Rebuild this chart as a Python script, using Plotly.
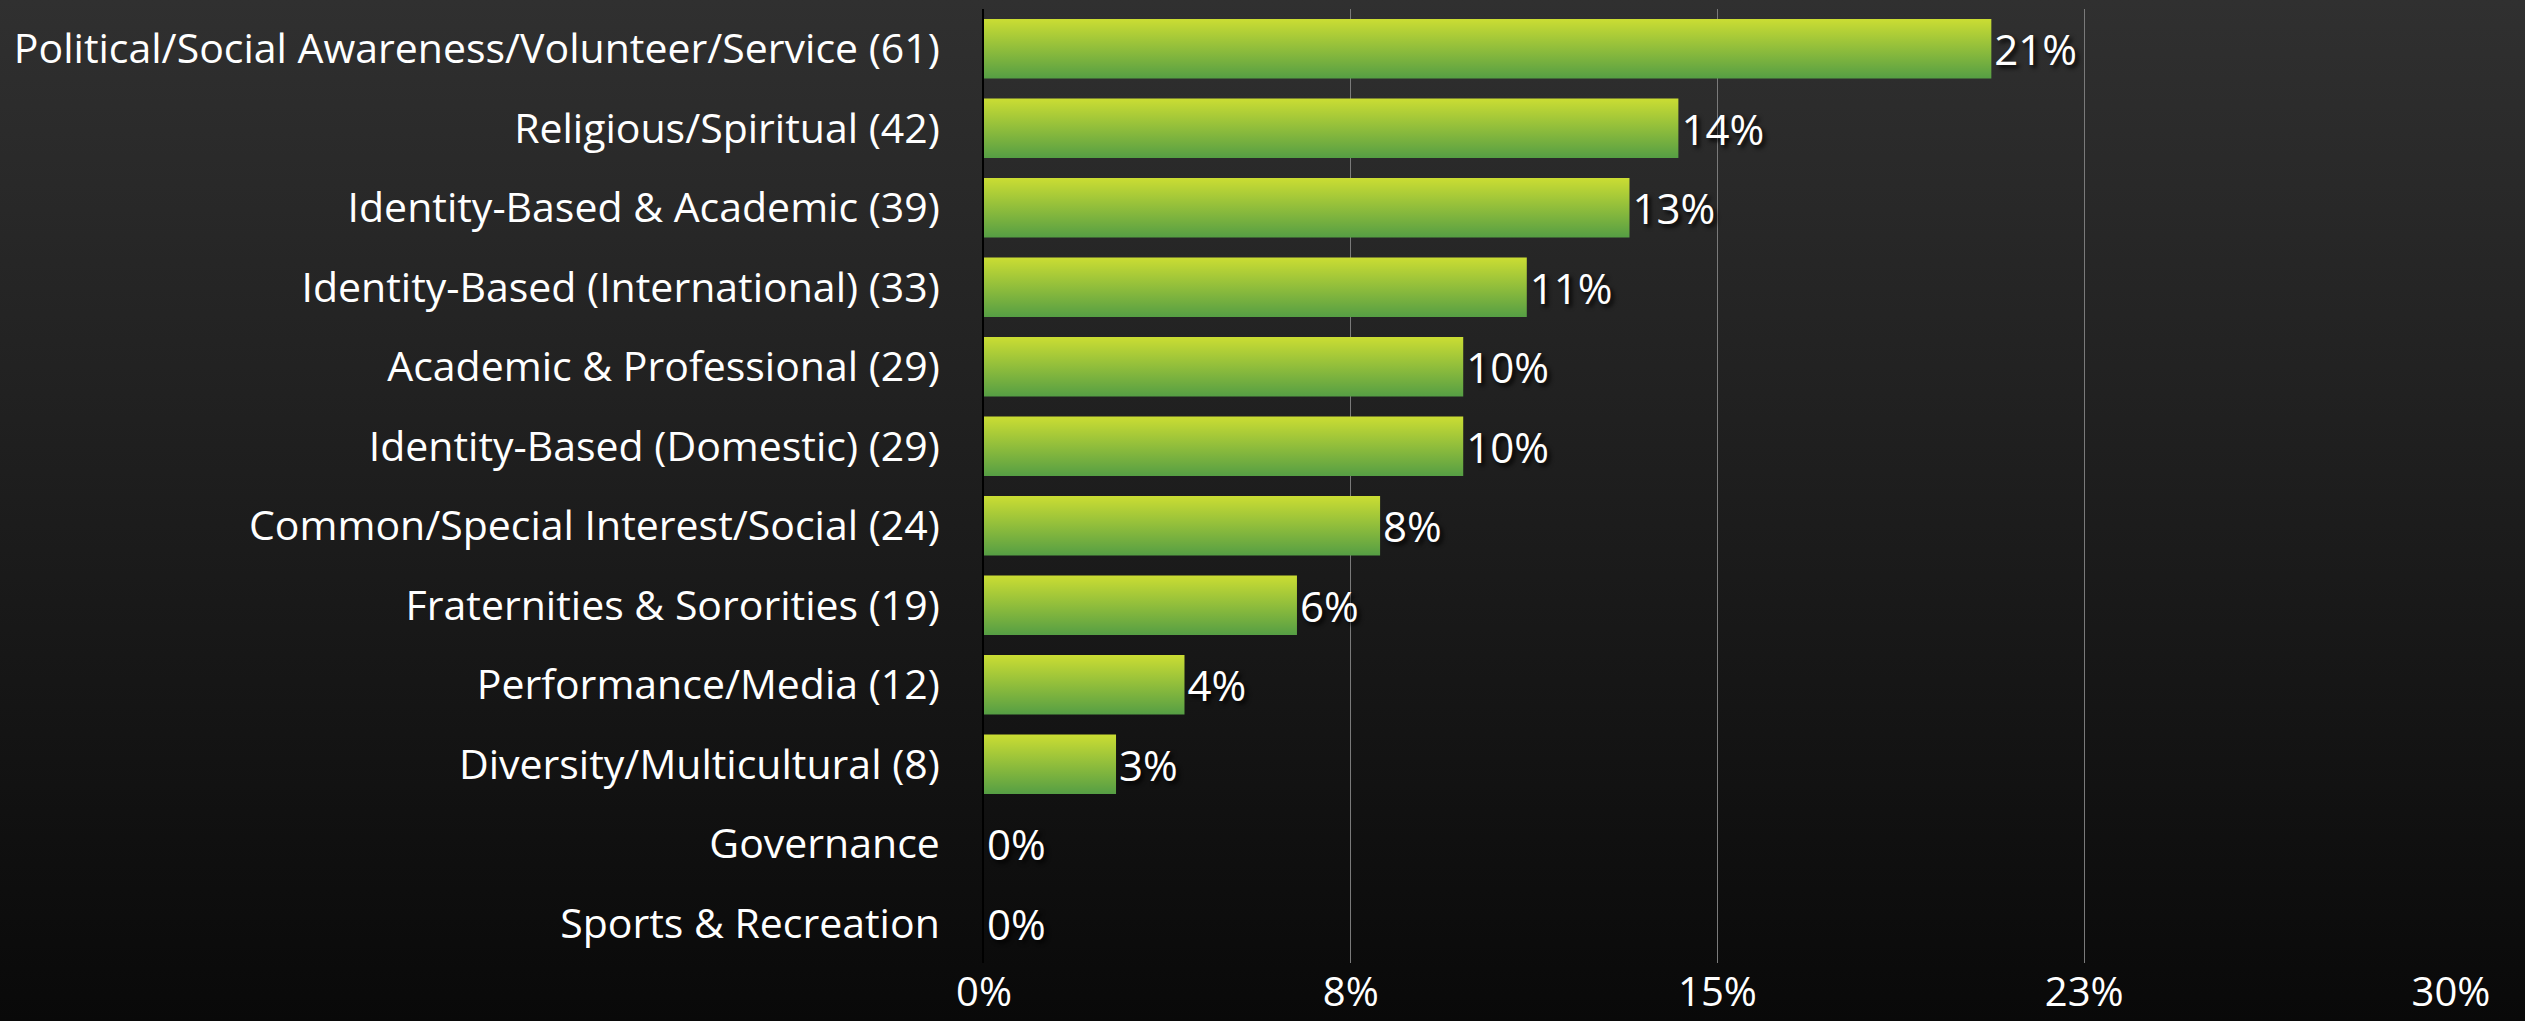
import base64
import plotly.graph_objects as go

# Student organisation categories (count of organisations in brackets)
categories = [
    "Political/Social Awareness/Volunteer/Service",
    "Religious/Spiritual",
    "Identity-Based & Academic",
    "Identity-Based (International)",
    "Academic & Professional",
    "Identity-Based (Domestic)",
    "Common/Special Interest/Social",
    "Fraternities & Sororities",
    "Performance/Media",
    "Diversity/Multicultural",
    "Governance",
    "Sports & Recreation",
]
counts = [61, 42, 39, 33, 29, 29, 24, 19, 12, 8, None, None]
shares = [20.6, 14.2, 13.2, 11.1, 9.8, 9.8, 8.1, 6.4, 4.1, 2.7, 0.0, 0.0]
x_ticks = [0, 7.5, 15, 22.5, 30]
x_tick_labels = ["0%", "8%", "15%", "23%", "30%"]

labels = [c if n is None else f"{c} ({n})" for c, n in zip(categories, counts)]
value_text = [f"{round(v)}%" for v in shares]
rows = list(range(len(labels)))

W, H = 2525, 1021
M_L, M_R, M_T, M_B = 984, 74, 9, 58
FONT = "Open Sans"

BAR_W = 0.75
TOP_COLOR = "#cbdd33"
BOTTOM_COLOR = "#559e44"

fig = go.Figure()

# bars drawn as filled outlines so each one gets a vertical colour gradient
for r, v in zip(rows, shares):
    if v <= 0:
        continue
    y0, y1 = r - BAR_W / 2, r + BAR_W / 2
    fig.add_trace(go.Scatter(
        x=[0, v, v, 0, 0], y=[y0, y0, y1, y1, y0],
        mode="lines", line=dict(width=0, color=BOTTOM_COLOR),
        fill="toself",
        fillgradient=dict(type="vertical",
                          colorscale=[[0, TOP_COLOR], [1, BOTTOM_COLOR]],
                          start=y0, stop=y1),
        hoverinfo="skip", showlegend=False,
    ))

# value labels at the end of each bar
fig.add_trace(go.Bar(
    x=shares, y=rows, orientation="h",
    width=BAR_W,
    marker=dict(color="rgba(0,0,0,0)", line=dict(width=0)),
    text=value_text, textposition="outside", constraintext="none",
    cliponaxis=False,
    textfont=dict(family=FONT, size=42, color="white",
                  shadow="3px 3px 4px rgba(0,0,0,0.9)"),
    hovertemplate="%{customdata}: %{x}%<extra></extra>",
    customdata=labels,
    showlegend=False,
))

# dark vertical background gradient behind the whole figure
svg = (
    f'<svg xmlns="http://www.w3.org/2000/svg" width="{W}" height="{H}" preserveAspectRatio="none">'
    '<defs><linearGradient id="g" x1="0" y1="0" x2="0" y2="1">'
    '<stop offset="0" stop-color="#303030"/><stop offset="1" stop-color="#090909"/>'
    '</linearGradient></defs>'
    f'<rect width="{W}" height="{H}" fill="url(#g)"/></svg>'
)
bg_uri = "data:image/svg+xml;base64," + base64.b64encode(svg.encode()).decode()
pw, ph = W - M_L - M_R, H - M_T - M_B

fig.update_layout(
    width=W, height=H,
    margin=dict(l=M_L, r=M_R, t=M_T, b=M_B, pad=0),
    barmode="overlay",
    paper_bgcolor="#0a0a0a",
    plot_bgcolor="rgba(0,0,0,0)",
    font=dict(family=FONT, color="white"),
    images=[dict(
        source=bg_uri, xref="paper", yref="paper",
        x=-M_L / pw, y=1 + M_T / ph, sizex=W / pw, sizey=H / ph,
        xanchor="left", yanchor="top", sizing="stretch", layer="below",
    )],
    xaxis=dict(
        range=[0, 30], tickvals=x_ticks, ticktext=x_tick_labels,
        showgrid=True, gridcolor="#7a7a7a", gridwidth=1,
        zeroline=False, showline=False, ticks="",
        ticklabelstandoff=2, automargin=False,
        tickfont=dict(family=FONT, size=40, color="white"),
        fixedrange=True,
    ),
    yaxis=dict(
        range=[len(labels) - 0.5, -0.5],
        tickvals=rows, ticktext=labels,
        showgrid=False, zeroline=False, ticks="",
        showline=True, linecolor="#000000", linewidth=2,
        ticklabelstandoff=34, automargin=False,
        tickfont=dict(family=FONT, size=41, color="white"),
        fixedrange=True,
    ),
)

fig.write_html("out.html")
